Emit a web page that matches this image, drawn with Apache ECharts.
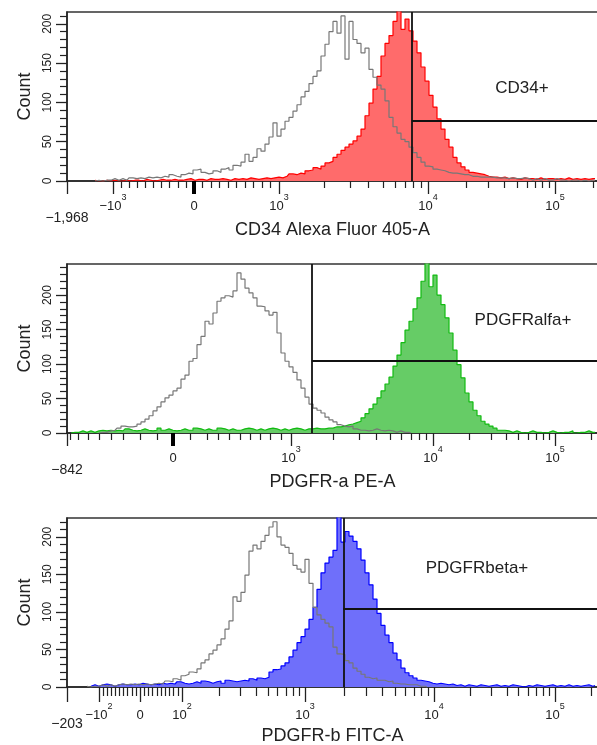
<!DOCTYPE html>
<html>
<head>
<meta charset="utf-8">
<script src="https://cdn.jsdelivr.net/npm/echarts@6/dist/echarts.min.js"></script>
<style>
  html, body { margin: 0; padding: 0; background: #fff; }
  #chart { width: 597px; height: 745px; }
</style>
</head>
<body>
<div id="chart"></div>
<script>
// histogram counts, one value per 4-channel display bin
const BIN = 4;

const cd34IsoStart = 28;
const cd34Iso = [0,1,0,1,1,3,1,3,1,4,3,4,3,5,4,5,4,6,5,8,6,5,8,10,9,14,15,11,9,10,13,11,15,17,14,20,19,24,34,25,30,41,38,47,56,74,57,66,76,81,89,97,107,114,124,133,140,159,174,190,203,188,210,155,203,180,175,163,169,142,132,122,117,102,81,69,61,53,50,43,36,30,24,19,18,15,14,13,11,10,10,9,8,8,6,6,5,5,5,5,4,4,4,3,4,3,3,4,3,1,3,1,3,1,1,3,1,1,0,1,1,0,1,0,1,1];
const cd34PosStart = 28;
const cd34Pos = [1,0,0,1,0,1,0,0,1,0,1,1,0,2,1,0,1,2,1,1,2,1,1,2,3,1,2,2,1,3,2,2,3,2,1,3,2,3,2,4,3,2,3,4,3,4,5,4,
  6,9,8,10,9,13,14,17,15,19,23,25,30,34,39,43,47,51,57,66,83,99,117,133,159,175,185,203,220,193,206,191,178,163,145,127,109,94,79,66,53,43,30,23,18,14,11,10,9,8,6,5,5,4,
  5,3,4,3,2,4,3,3,2,4,2,3,3,2,3,2,4,2,3,2,3,2,3,3];

const pdgfraIsoStart = 32;
const pdgfraIso = [0,1,1,3,4,7,10,9,9,10,13,16,20,25,32,38,45,51,55,61,65,78,84,104,108,128,140,162,158,174,191,196,199,197,206,232,223,210,203,196,184,183,177,171,175,145,116,104,96,88,77,65,52,42,36,33,29,23,19,16,12,10,9,10,6,4,4,3,4,6,4,3,4,3,1,3,1,1,0];
const pdgfraPosStart = 4;
const pdgfraPos = [0,1,1,3,1,3,1,3,4,3,4,3,4,3,6,4,3,4,6,4,3,4,7,4,6,4,3,4,6,4,4,7,6,4,6,4,4,7,6,4,6,4,4,6,7,6,4,6,4,6,7,6,4,6,4,6,7,6,4,6,6,7,6,
  6,7,7,9,9,10,12,13,15,17,22,28,35,42,51,61,71,81,97,113,131,149,162,180,196,220,250,212,229,200,186,167,145,120,99,80,58,45,33,25,17,13,10,7,4,4,3,
  1,3,1,0,1,3,1,1,0,1,3,1,0,1,1,3,0,1,1,3,1,1];

const pdgfrbIsoStart = 20;
const pdgfrbIso = [1,0,1,1,3,1,3,1,3,4,3,4,3,4,3,4,3,4,5,4,8,7,11,9,15,17,20,19,24,32,36,44,49,56,64,77,88,120,114,126,149,181,189,184,194,202,213,220,200,189,186,178,162,157,153,170,138,106,96,90,85,80,53,44,43,35,32,25,21,17,13,11,12,9,9,7,8,5,4,4,3,3,3,1,1,0];
const pdgfrbPosStart = 24;
const pdgfrbPos = [1,3,1,3,4,3,1,3,4,3,3,4,3,5,4,3,4,3,5,4,5,4,7,5,4,5,7,5,8,7,5,
  7,8,5,9,8,7,8,9,8,11,9,12,11,13,20,23,24,28,32,40,49,59,67,77,90,106,130,152,165,173,182,228,193,207,201,194,184,169,152,136,117,98,82,69,59,45,36,25,19,15,12,9,8,7,5,4,5,4,3,
  4,2,3,1,3,2,1,3,2,1,2,3,1,2,1,3,2,1,0,2,1,3,2,1,2,3,1,2,1,3,1,2,1,2,3,1,2];

// biexponential display: fluorescence value -> display channel
const cd34Scale = [[-1968,0],[-1000,46],[0,127],[1000,212],[10000,361],[100000,488],[1000000,615]];
const pdgfraScale = [[-842,0],[-700,11],[-500,32],[-300,56],[-100,90],[0,106],[200,140],[500,173],[1000,224],[10000,366],[100000,488],[1000000,610]];
const pdgfrbScale = [[-203,0],[-100,32],[0,73],[100,115],[1000,238],[10000,367],[100000,488],[1000000,609]];

const cd34Major = [-1000, 0, 1000, 10000, 100000];
const cd34MajorLabels = ['−10³', '0', '10³', '10⁴', '10⁵'];
const cd34Minor = [-900,-800,-700,-600,-500,-400,-300,-200,-100,100,200,300,400,500,600,700,800,900,
  2000,3000,4000,5000,6000,7000,8000,9000,20000,30000,40000,50000,60000,70000,80000,90000,200000];

const pdgfraMajor = [0, 1000, 10000, 100000];
const pdgfraMajorLabels = ['0', '10³', '10⁴', '10⁵'];
const pdgfraMinor = [-800,-700,-600,-500,-400,-300,-200,-100,100,200,300,400,500,600,700,800,900,
  2000,3000,4000,5000,6000,7000,8000,9000,20000,30000,40000,50000,60000,70000,80000,90000,200000];

const pdgfrbMajor = [-100, 0, 100, 1000, 10000, 100000];
const pdgfrbMajorLabels = ['−10²', '0', '10²', '10³', '10⁴', '10⁵'];
const pdgfrbMinor = [-90,-80,-70,-60,-50,-40,-30,-20,-10,10,20,30,40,50,60,70,80,90,
  200,300,400,500,600,700,800,900,2000,3000,4000,5000,6000,7000,8000,9000,
  20000,30000,40000,50000,60000,70000,80000,90000,200000];

const yMax = [215, 245, 225];
const gateValue = [7800, 1400, 1980];
const gateCount = [77, 105, 104];
const gateNames = ['CD34+', 'PDGFRalfa+', 'PDGFRbeta+'];
const axisNames = ['CD34 Alexa Fluor 405-A', 'PDGFR-a PE-A', 'PDGFR-b FITC-A'];
const fillColors = ['#ff6b6b', '#66cc66', '#6f6ffa'];
const edgeColors = ['#ff0000', '#11bb11', '#0000ff'];

// layout
const FONT = '"Liberation Sans", Arial, sans-serif';
const INK = '#222';
const X_MAX = 531;
const gridTops = [12, 264, 518];
const gridH = 169;
const labelMargin = [12, 12, 15];
const gateLabelPos = [[522, 88], [523, 320], [477, 568]];

function toChannel(scale, v) {
  for (let i = 0; i < scale.length - 1; i++) {
    const a = scale[i][0], pa = scale[i][1], b = scale[i + 1][0], pb = scale[i + 1][1];
    if (v >= a && v <= b) {
      if (a > 0 && b >= 10 * a) return pa + (pb - pa) * Math.log10(v / a) / Math.log10(b / a);
      return pa + (pb - pa) * (v - a) / (b - a);
    }
  }
  return null;
}

const SUP = { '²': '2', '³': '3', '⁴': '4', '⁵': '5' };
function richLabel(s) {
  const last = s[s.length - 1];
  if (SUP[last]) return '{b|' + s.slice(0, -1) + '}{s|' + SUP[last] + '}';
  return '{b|' + s + '}';
}

const panels = [
  { scale: cd34Scale, major: cd34Major, labels: cd34MajorLabels, minor: cd34Minor,
    iso: cd34Iso, isoStart: cd34IsoStart, pos: cd34Pos, posStart: cd34PosStart, zeroBar: true },
  { scale: pdgfraScale, major: pdgfraMajor, labels: pdgfraMajorLabels, minor: pdgfraMinor,
    iso: pdgfraIso, isoStart: pdgfraIsoStart, pos: pdgfraPos, posStart: pdgfraPosStart, zeroBar: true },
  { scale: pdgfrbScale, major: pdgfrbMajor, labels: pdgfrbMajorLabels, minor: pdgfrbMinor,
    iso: pdgfrbIso, isoStart: pdgfrbIsoStart, pos: pdgfrbPos, posStart: pdgfrbPosStart, zeroBar: false }
];

const grid = [], xAxis = [], yAxis = [], series = [], graphic = [];

panels.forEach(function (p, i) {
  grid.push({ left: 67, top: gridTops[i], width: X_MAX, height: gridH, show: true,
    borderColor: '#333', borderWidth: 1.5, outerBoundsMode: 'none' });

  const majorCh = p.major.map(function (v) { return toChannel(p.scale, v); });
  const minorCh = p.minor.map(function (v) { return toChannel(p.scale, v); });
  const minVal = p.scale[0][0];
  const minLabel = '−' + Math.abs(minVal).toLocaleString('en-US');

  const base = { type: 'value', gridIndex: i, min: 0, max: X_MAX, position: 'bottom',
    splitLine: { show: false }, axisPointer: { show: false } };

  // major ticks, labels, axis title
  xAxis.push(Object.assign({}, base, {
    axisLine: { show: true, onZero: false, lineStyle: { color: INK, width: 1.5 } },
    axisTick: { show: true, customValues: [0].concat(majorCh), length: i === 2 ? 15 : 13,
      lineStyle: { color: INK, width: 1.3 } },
    axisLabel: {
      show: true, customValues: majorCh, margin: labelMargin[i],
      formatter: function (val) {
        for (let k = 0; k < majorCh.length; k++) {
          if (Math.abs(majorCh[k] - val) < 0.01) return richLabel(p.labels[k]);
        }
        return '';
      },
      rich: {
        b: { fontSize: 13, fontFamily: FONT, color: INK, lineHeight: 20, verticalAlign: 'bottom' },
        s: { fontSize: 9, fontFamily: FONT, color: INK, lineHeight: 12, verticalAlign: 'top' }
      }
    },
    name: axisNames[i], nameLocation: 'middle', nameGap: 40,
    nameTextStyle: { fontSize: 18, fontFamily: FONT, color: INK }
  }));

  // minor ticks + axis minimum label
  xAxis.push(Object.assign({}, base, {
    axisLine: { show: false, onZero: false },
    axisTick: { show: true, customValues: minorCh, length: i === 2 ? 9 : 7,
      lineStyle: { color: INK, width: 1.2 } },
    axisLabel: { show: true, customValues: [0], margin: 30, fontSize: 14, fontFamily: FONT, color: INK,
      formatter: function () { return minLabel; } }
  }));

  // heavy zero marker
  xAxis.push(Object.assign({}, base, {
    axisLine: { show: false, onZero: false },
    axisTick: { show: p.zeroBar, customValues: [toChannel(p.scale, 0)], length: 13,
      lineStyle: { color: '#000', width: 4 } },
    axisLabel: { show: false }
  }));

  const yMajor = [0, 50, 100, 150, 200];
  const yMinor = [];
  for (let v = 10; v < yMax[i]; v += 10) if (v % 50) yMinor.push(v);

  yAxis.push({ type: 'value', gridIndex: i, min: 0, max: yMax[i], position: 'left',
    splitLine: { show: false },
    axisLine: { show: true, onZero: false, lineStyle: { color: INK, width: 1.5 } },
    axisTick: { show: true, customValues: yMajor, length: 11, lineStyle: { color: INK, width: 1.3 } },
    axisLabel: { show: true, customValues: yMajor, rotate: 90, margin: 13, fontSize: 12,
      fontFamily: FONT, color: INK },
    name: 'Count', nameLocation: 'middle', nameGap: 27,
    nameTextStyle: { fontSize: 18, fontFamily: FONT, color: INK } });
  yAxis.push({ type: 'value', gridIndex: i, min: 0, max: yMax[i], position: 'left',
    splitLine: { show: false },
    axisLine: { show: false, onZero: false },
    axisTick: { show: true, customValues: yMinor, length: 7, lineStyle: { color: INK, width: 1.2 } },
    axisLabel: { show: false } });

  const gx = toChannel(p.scale, gateValue[i]);

  series.push({
    type: 'line', xAxisIndex: 3 * i, yAxisIndex: 2 * i, step: 'middle', symbol: 'none',
    data: p.pos.map(function (c, k) { return [p.posStart + k * BIN, c]; }),
    lineStyle: { color: edgeColors[i], width: 1.2 },
    areaStyle: { color: fillColors[i], opacity: 1 },
    z: 2, animation: false,
    markLine: {
      silent: true, symbol: ['none', 'none'], animation: false,
      label: { show: false },
      lineStyle: { color: '#111', width: 1.8, type: 'solid' },
      data: [
        [{ coord: [gx, 0] }, { coord: [gx, yMax[i]] }],
        [{ coord: [gx, gateCount[i]] }, { coord: [X_MAX, gateCount[i]] }]
      ]
    }
  });
  series.push({
    type: 'line', xAxisIndex: 3 * i, yAxisIndex: 2 * i, step: 'middle', symbol: 'none',
    data: p.iso.map(function (c, k) { return [p.isoStart + k * BIN, c]; }),
    lineStyle: { color: '#777', width: 1.2 },
    z: 3, animation: false
  });

  graphic.push({ type: 'text', x: gateLabelPos[i][0], y: gateLabelPos[i][1], z: 10,
    style: { text: gateNames[i], font: '17px ' + FONT, fill: INK,
      align: 'center', verticalAlign: 'middle', textAlign: 'center', textVerticalAlign: 'middle' } });
});

const chart = echarts.init(document.getElementById('chart'), null, { renderer: 'canvas' });
chart.setOption({
  animation: false,
  backgroundColor: '#fff',
  grid: grid,
  xAxis: xAxis,
  yAxis: yAxis,
  series: series,
  graphic: graphic
});
</script>
</body>
</html>
